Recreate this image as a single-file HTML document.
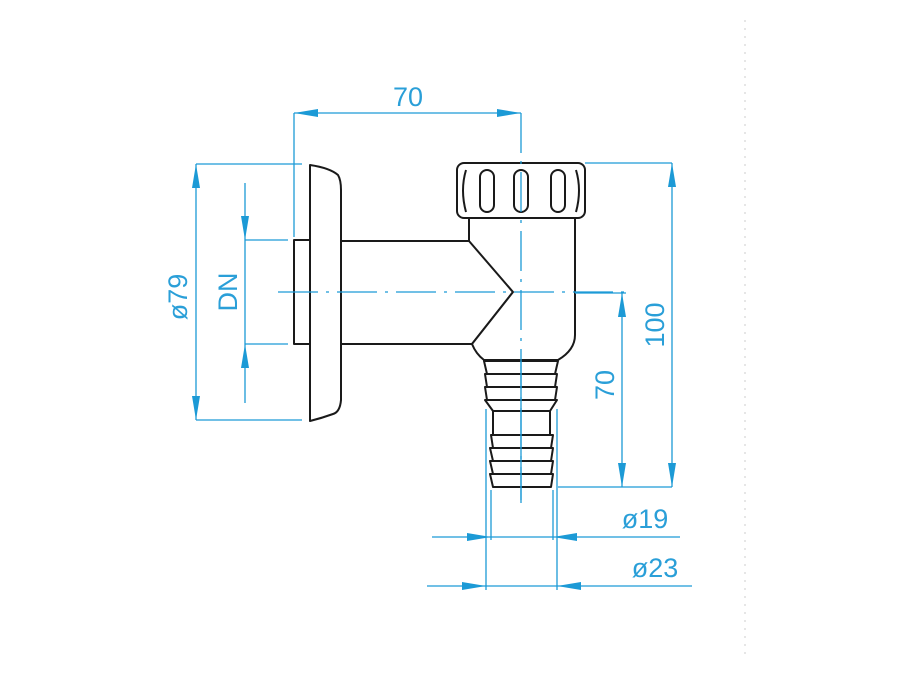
<!DOCTYPE html>
<html><head><style>
html,body{margin:0;padding:0;background:#fff;}
svg{display:block;}
.b{stroke:#1c9ad6;stroke-width:1.3;fill:none;}
.t{fill:#2a9fd8;font-family:"Liberation Sans",sans-serif;font-size:27px;}
.k{stroke:#1a1a1a;stroke-width:2;fill:#fff;stroke-linejoin:round;}
.a{fill:#1c9ad6;}
</style></head><body>
<svg width="900" height="675" viewBox="0 0 900 675">
<line x1="745" y1="20" x2="745" y2="655" stroke="#ccc" stroke-width="1" stroke-dasharray="2,6"/>

<!-- part drawing -->
<rect class="k" x="294" y="240" width="16" height="104"/>
<path class="k" d="M338,241 L470,241 L513,292 L472,344 L338,344 Z"/>
<path class="k" d="M469,218 L469,241 L513,292 L472,344 Q476,354 484,360 L558,360 Q575,350 575,335 L575,218 Z"/>
<path class="k" d="M310,165 Q330,168 338,175 Q341,180 341,190 L341,400 Q340,412 333,414 Q322,418 310,421 Z"/>
<rect class="k" x="457" y="163" width="128" height="55" rx="7"/>
<path class="k" d="M466,170 Q460,190 466,212" />
<path class="k" d="M576,170 Q582,190 576,212" />
<rect class="k" x="480" y="170" width="14" height="42" rx="7"/>
<rect class="k" x="514" y="170" width="14" height="42" rx="7"/>
<rect class="k" x="551" y="170" width="14" height="42" rx="7"/>
<path class="k" d="M484,361 L558,361 L555,374 L487,374 Z"/>
<path class="k" d="M485,374 L557,374 L555,387 L487,387 Z"/>
<path class="k" d="M485,387 L557,387 L555,400 L487,400 Z"/>
<path class="k" d="M485,400 L557,400 L550,411 L493,411 Z"/>
<rect class="k" x="493" y="411" width="57" height="24"/>
<path class="k" d="M491,435 L553,435 L551,448 L493,448 Z"/>
<path class="k" d="M490,448 L553,448 L551,461 L493,461 Z"/>
<path class="k" d="M490,461 L553,461 L551,474 L493,474 Z"/>
<path class="k" d="M490,474 L553,474 L551,487 L493,487 Z"/>

<!-- centerlines on top -->
<line class="b" x1="278" y1="292" x2="632" y2="292" stroke-dasharray="40,8,3,8"/>
<line class="b" x1="521" y1="113" x2="521" y2="503" stroke-dasharray="40,8,3,8"/>
<line class="b" x1="521" y1="361" x2="521" y2="500"/>

<!-- dim 70 top -->
<line class="b" x1="294" y1="113" x2="521" y2="113"/>
<line class="b" x1="294" y1="113" x2="294" y2="237"/>
<polygon class="a" points="294,113 318,109 318,117"/>
<polygon class="a" points="521,113 497,109 497,117"/>
<text class="t" x="408" y="106" text-anchor="middle">70</text>

<!-- ø79 -->
<line class="b" x1="196" y1="164" x2="302" y2="164"/>
<line class="b" x1="196" y1="420" x2="302" y2="420"/>
<line class="b" x1="196" y1="164" x2="196" y2="420"/>
<polygon class="a" points="196,164 192,188 200,188"/>
<polygon class="a" points="196,420 192,396 200,396"/>
<text class="t" transform="translate(187,297) rotate(-90)" text-anchor="middle">ø79</text>

<!-- DN -->
<line class="b" x1="245" y1="240" x2="288" y2="240"/>
<line class="b" x1="245" y1="344" x2="288" y2="344"/>
<line class="b" x1="245" y1="183" x2="245" y2="403"/>
<polygon class="a" points="245,240 241,216 249,216"/>
<polygon class="a" points="245,344 241,368 249,368"/>
<text class="t" transform="translate(237,292) rotate(-90)" text-anchor="middle">DN</text>

<!-- 100 -->
<line class="b" x1="585" y1="163" x2="672" y2="163"/>
<line class="b" x1="558" y1="487" x2="672" y2="487"/>
<line class="b" x1="672" y1="163" x2="672" y2="487"/>
<polygon class="a" points="672,163 668,187 676,187"/>
<polygon class="a" points="672,487 668,463 676,463"/>
<text class="t" transform="translate(664,325) rotate(-90)" text-anchor="middle">100</text>

<!-- 70 vertical -->
<line class="b" x1="575" y1="293" x2="626" y2="293"/>
<line class="b" x1="622" y1="293" x2="622" y2="487"/>
<polygon class="a" points="622,293 618,317 626,317"/>
<polygon class="a" points="622,487 618,463 626,463"/>
<text class="t" transform="translate(614,385) rotate(-90)" text-anchor="middle">70</text>

<!-- ø19 -->
<line class="b" x1="491" y1="490" x2="491" y2="540"/>
<line class="b" x1="553" y1="490" x2="553" y2="540"/>
<line class="b" x1="432" y1="537" x2="680" y2="537"/>
<polygon class="a" points="491,537 467,533 467,541"/>
<polygon class="a" points="553,537 577,533 577,541"/>
<text class="t" x="645" y="528" text-anchor="middle">ø19</text>

<!-- ø23 -->
<line class="b" x1="486" y1="409" x2="486" y2="590"/>
<line class="b" x1="557" y1="409" x2="557" y2="590"/>
<line class="b" x1="427" y1="586" x2="692" y2="586"/>
<polygon class="a" points="486,586 462,582 462,590"/>
<polygon class="a" points="557,586 581,582 581,590"/>
<text class="t" x="655" y="577" text-anchor="middle">ø23</text>
</svg>
</body></html>
